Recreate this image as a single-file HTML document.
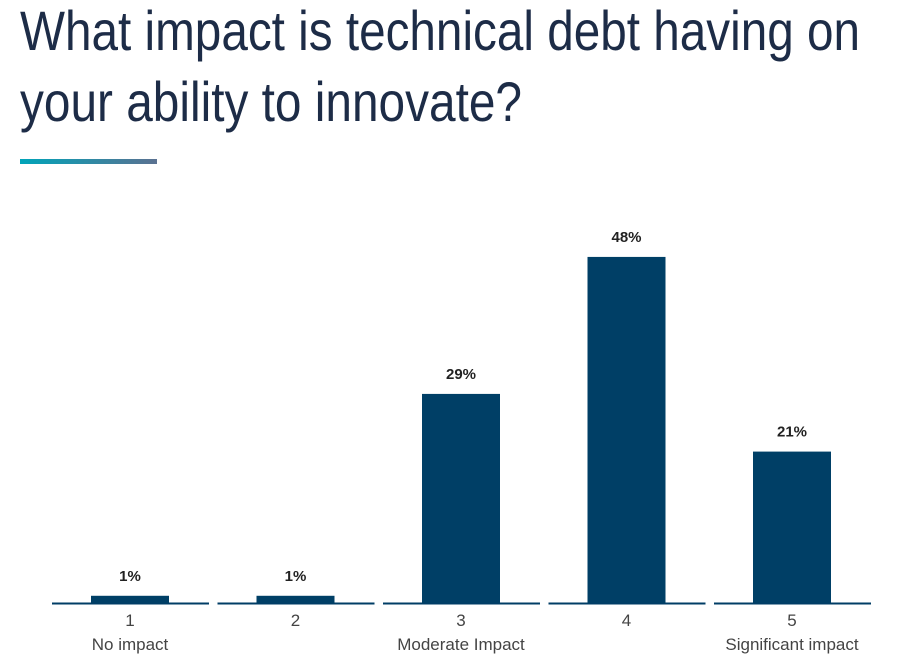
<!DOCTYPE html>
<html><head><meta charset="utf-8"><style>
body{margin:0;background:#fff;width:920px;height:661px;overflow:hidden}
svg{display:block}
</style></head><body>
<svg width="920" height="661">
<defs><linearGradient id="g" x1="0" x2="1"><stop offset="0" stop-color="#00a4b9"/><stop offset="1" stop-color="#5b7191"/></linearGradient></defs>
<g font-family="'Liberation Sans Narrow','Liberation Sans',sans-serif" font-size="56" fill="#1d2c47">
<text x="20" y="50" textLength="840" lengthAdjust="spacingAndGlyphs">What impact is technical debt having on</text>
<text x="20" y="121" textLength="502" lengthAdjust="spacingAndGlyphs">your ability to innovate?</text>
</g>
<rect x="20" y="159" width="137" height="5" fill="url(#g)"/>
<g id="plot"></g>
</svg>
<script>
const categories=["1","2","3","4","5"];
const sublabels=["No impact","","Moderate Impact","","Significant impact"];
const values=[1,1,29,48,21];
const valueLabels=["1%","1%","29%","48%","21%"];
const base=603,ppu=7.21,x0=52,step=165.5;
const xc=i=>x0+step*i+78;
const y=v=>base-v*ppu;
const ns="http://www.w3.org/2000/svg",p=document.getElementById('plot');
function mk(t,a,txt){const e=document.createElementNS(ns,t);for(const k in a)e.setAttribute(k,a[k]);if(txt!=null)e.textContent=txt;p.appendChild(e);return e;}
categories.forEach((c,i)=>{
 const ax=mk('line',{x1:xc(i)-78,x2:xc(i)+79,y1:base+0.5,y2:base+0.5,stroke:'#003d66','stroke-width':2});
 
 
 const b=mk('rect',{x:xc(i)-39,y:y(values[i]),width:78,height:values[i]*ppu,fill:'#003f66'});
 
 
 const vl=mk('text',{x:xc(i),y:y(values[i])-15,'text-anchor':'middle','font-family':'Liberation Sans,sans-serif','font-size':15,'font-weight':'bold',fill:'#222'},valueLabels[i]);
 
 
 const cl=mk('text',{x:xc(i),y:626,'text-anchor':'middle','font-family':'Liberation Sans,sans-serif','font-size':17,fill:'#444'},c);
 
 
 if(sublabels[i]){const s=mk('text',{x:xc(i),y:650,'text-anchor':'middle','font-family':'Liberation Sans,sans-serif','font-size':17,fill:'#444'},sublabels[i]);
 
 }
});
</script>
</body></html>
